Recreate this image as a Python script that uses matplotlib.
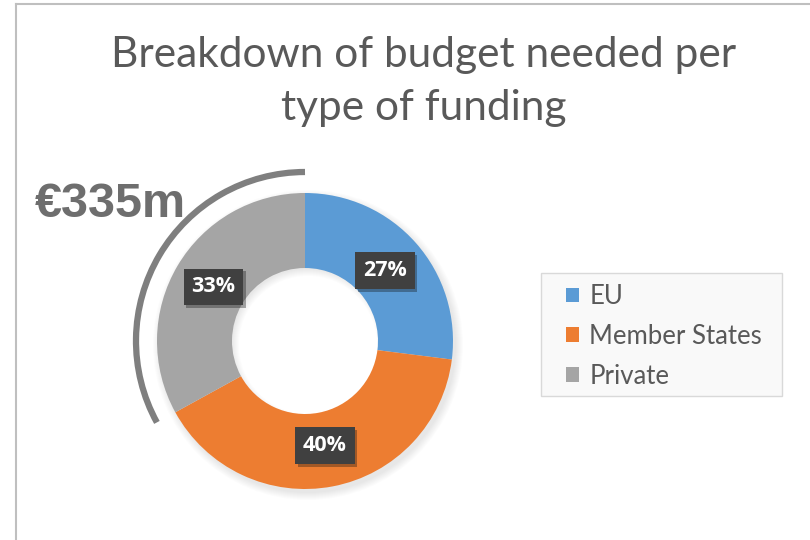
import matplotlib.pyplot as plt
import matplotlib.patheffects as pe
from matplotlib.patches import Arc, Wedge, Rectangle
from matplotlib.lines import Line2D

# data
categories = ['EU', 'Member States', 'Private']
shares = [27, 40, 33]
colors = ['#5b9bd5', '#ed7d31', '#a5a5a5']
total_label = '€335m'
title = 'Breakdown of budget needed per\ntype of funding'

W, H = 810, 540
fig = plt.figure(figsize=(W / 100, H / 100), dpi=100)
ax = fig.add_axes([0, 0, 1, 1])
ax.set_xlim(0, W)
ax.set_ylim(0, H)
ax.set_aspect('equal')
ax.axis('off')

cx, cy = 305, H - 341
R, ring = 148, 75

# soft shadow behind the donut ring
for i in range(8):
    ax.add_patch(Wedge((cx + 3, cy - 4), R + 7 - i, 0, 360,
                       width=ring + 4, color='black', alpha=0.012, lw=0,
                       zorder=0))

wedges, _, autotexts = ax.pie(
    shares, colors=colors, startangle=90, counterclock=False,
    radius=R, center=(cx, cy), autopct='%d%%', pctdistance=0.72,
    wedgeprops=dict(width=ring, linewidth=0),
    textprops=dict(color='white', fontsize=15.5, fontweight='bold',
                   family='Open Sans'))
ax.set_xlim(0, W)
ax.set_ylim(0, H)

for t in autotexts:
    t.set_bbox(dict(boxstyle='square,pad=0.36', facecolor='#404040',
                    edgecolor='none'))
    t.get_bbox_patch().set_path_effects(
        [pe.withSimplePatchShadow(offset=(2, -2), alpha=0.35)])

# arc around the "Private" slice
start = 90 - 360 * sum(shares[:2]) / 100 + 360
ax.add_patch(Arc((cx, cy), 2 * 169, 2 * 169, theta1=90, theta2=start,
                 color='#7f7f7f', lw=4.5, zorder=3))

ax.text(35, H - 217, total_label, fontsize=35, fontweight='bold',
        family='Liberation Sans', color='#6e6e6e', ha='left',
        va='baseline', zorder=4)

# title, one line at a time so the baselines sit where they should
for i, line in enumerate(title.split('\n')):
    ax.text(424, H - 67 - 53 * i, line, ha='center', va='baseline',
            fontsize=30.5, family='Lato', color='#595959')

# legend box
ax.add_patch(Rectangle((541, H - 396), 241, 123, facecolor='#f9f9f9',
                       edgecolor='#d9d9d9', lw=1, zorder=1))
leg = ax.legend(wedges, categories, loc='upper left',
                bbox_to_anchor=(566 / W, 1 - 284 / H),
                bbox_transform=fig.transFigure,
                prop=dict(family='Lato', size=18.5), labelcolor='#595959',
                handlelength=0.5, handleheight=0.5, handletextpad=0.4,
                labelspacing=0.58, borderpad=0, borderaxespad=0,
                frameon=False)

# chart frame lines
fig.add_artist(Line2D([16 / W, 16 / W], [0, 1 - 4 / H], color='#bfbfbf',
                      lw=1.5))
fig.add_artist(Line2D([16 / W, 1], [1 - 4 / H, 1 - 4 / H], color='#bfbfbf',
                      lw=1.5))

plt.savefig('out.png', dpi=100)
